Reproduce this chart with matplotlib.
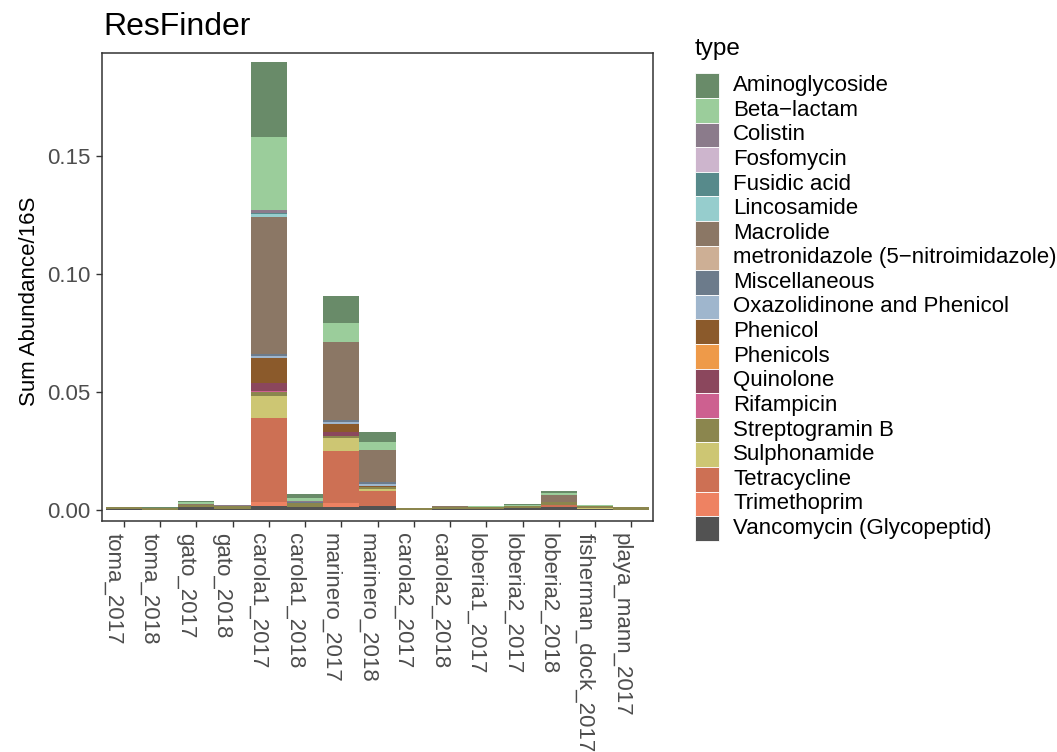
import matplotlib
matplotlib.use("Agg")
import matplotlib.pyplot as plt
from matplotlib.patches import Rectangle
from matplotlib.transforms import ScaledTranslation
import numpy as np

plt.rcParams['font.family'] = ['Liberation Sans', 'DejaVu Sans']

# samples (x axis order)
samples = ["toma_2017", "toma_2018", "gato_2017", "gato_2018", "carola1_2017",
           "carola1_2018", "marinero_2017", "marinero_2018", "carola2_2017",
           "carola2_2018", "loberia1_2017", "loberia2_2017", "loberia2_2018",
           "fisherman_dock_2017", "playa_mann_2017"]

# abundance per resistance type, one value per sample
aminoglycoside = [0.0001, 0.0002, 0.0003, 0, 0.0319, 0.0014, 0.0114, 0.0042, 0.0001, 0, 0.0002, 0.0004, 0.0007, 0.0003, 0.0001]
beta_lactam    = [0, 0, 0.0008, 0, 0.0310, 0.0014, 0.0081, 0.0034, 0, 0, 0.0002, 0.0004, 0.0010, 0.0003, 0]
colistin       = [0, 0, 0, 0.0002, 0.0012, 0.0004, 0, 0, 0, 0, 0, 0, 0, 0, 0]
fosfomycin     = [0, 0, 0, 0, 0.0001, 0, 0, 0, 0, 0, 0, 0, 0, 0, 0]
fusidic_acid   = [0, 0, 0, 0, 0.0002, 0, 0, 0, 0, 0, 0, 0, 0, 0, 0]
lincosamide    = [0, 0, 0, 0, 0.0013, 0, 0, 0, 0, 0, 0, 0, 0, 0, 0]
macrolide      = [0, 0, 0.0005, 0, 0.0584, 0, 0.0329, 0.0136, 0, 0.0002, 0, 0.0004, 0.0028, 0, 0]
metronidazole  = [0, 0, 0, 0, 0.0001, 0, 0.0001, 0, 0, 0, 0, 0, 0, 0, 0]
miscellaneous  = [0, 0, 0, 0.0002, 0.0007, 0.0006, 0.0007, 0.0007, 0, 0, 0, 0, 0, 0, 0]
oxazolidinone  = [0, 0, 0, 0, 0.0010, 0, 0.0010, 0.0010, 0, 0, 0, 0, 0, 0, 0]
phenicol       = [0, 0, 0, 0, 0.0103, 0, 0.0034, 0.0002, 0, 0, 0, 0, 0, 0, 0]
phenicols      = [0, 0, 0, 0, 0, 0, 0.0001, 0, 0, 0, 0, 0, 0, 0, 0]
quinolone      = [0, 0, 0, 0, 0.0034, 0, 0.0017, 0, 0, 0, 0, 0, 0, 0, 0]
rifampicin     = [0, 0, 0, 0, 0.0007, 0, 0, 0, 0, 0, 0, 0, 0, 0, 0]
streptogramin  = [0.0009, 0.0008, 0.0008, 0.0010, 0.0014, 0.0015, 0.0008, 0.0008, 0.0006, 0.0007, 0.0009, 0.0008, 0.0014, 0.0007, 0.0009]
sulphonamide   = [0, 0, 0, 0, 0.0093, 0, 0.0054, 0.0012, 0, 0, 0, 0, 0, 0.0005, 0]
tetracycline   = [0, 0, 0, 0, 0.0360, 0, 0.0220, 0.0061, 0, 0.0002, 0, 0, 0.0008, 0, 0]
trimethoprim   = [0, 0, 0, 0, 0.0017, 0, 0.0017, 0.0003, 0, 0, 0, 0, 0, 0, 0]
vancomycin     = [0.0001, 0, 0.0011, 0.0004, 0.0013, 0.0011, 0.0011, 0.0013, 0, 0.0002, 0.0003, 0.0005, 0.0011, 0.0003, 0]

types = ["Aminoglycoside", "Beta\u2212lactam", "Colistin", "Fosfomycin", "Fusidic acid",
         "Lincosamide", "Macrolide", "metronidazole (5\u2212nitroimidazole)", "Miscellaneous",
         "Oxazolidinone and Phenicol", "Phenicol", "Phenicols", "Quinolone", "Rifampicin",
         "Streptogramin B", "Sulphonamide", "Tetracycline", "Trimethoprim",
         "Vancomycin (Glycopeptid)"]
series = [aminoglycoside, beta_lactam, colistin, fosfomycin, fusidic_acid, lincosamide,
          macrolide, metronidazole, miscellaneous, oxazolidinone, phenicol, phenicols,
          quinolone, rifampicin, streptogramin, sulphonamide, tetracycline, trimethoprim,
          vancomycin]
colors = ["#698B69", "#9BCD9B", "#8B7B8B", "#CDB5CD", "#578A8B", "#96CDCD", "#8B7765",
          "#CDAF95", "#6C7B8B", "#9FB6CD", "#8B5A2B", "#EE9A49", "#8B475D", "#CD6090",
          "#8B864E", "#CDC673", "#CD7054", "#EE8262", "#525252"]

W, H = 1057, 752
fig = plt.figure(figsize=(W / 100, H / 100), dpi=100)
ax = fig.add_axes([102 / W, 1 - 520.7 / H, 551 / W, (520.7 - 53.3) / H])

x = np.arange(len(samples))
bottom = np.zeros(len(samples))
# ggplot stacks the first level on top, so draw from the last type up
for vals, col in zip(series[::-1], colors[::-1]):
    vals = np.array(vals)
    ax.bar(x, vals, width=1.0, bottom=bottom, color=col, linewidth=0)
    bottom += vals

ax.set_xlim(-0.6, len(samples) - 0.4)
ax.set_ylim(-0.00475, 0.1936)
ax.set_yticks([0, 0.05, 0.10, 0.15])
ax.set_yticklabels(["0.00", "0.05", "0.10", "0.15"])
ax.set_xticks(x)
ax.set_xticklabels(samples, rotation=-90, ha="right", va="top")
shift = ScaledTranslation(-5 / 100, 0, fig.dpi_scale_trans)
for lab in ax.get_xticklabels():
    lab.set_transform(lab.get_transform() + shift)

ax.tick_params(axis="both", length=4, width=1.0, color="#333333",
               labelsize=16, labelcolor="#4D4D4D")
ax.tick_params(axis="x", pad=5)
ax.tick_params(axis="y", pad=4.5)
for s in ax.spines.values():
    s.set_color("#333333")
    s.set_linewidth(1.1)

ax.set_ylabel("Sum Abundance/16S", fontsize=16)
ax.yaxis.set_label_coords(-0.113, 0.47)

fig.text(103 / W, 1 - 35 / H, "ResFinder", fontsize=23, va="baseline", ha="left")

# legend
fig.text(695 / W, 1 - 49 / H, "type", fontsize=17.5, va="center", ha="left")
top0, pitch = 73.3, 24.6
for i, (name, col) in enumerate(zip(types, colors)):
    y0 = top0 + pitch * i
    fig.add_artist(Rectangle((695 / W, 1 - (y0 + pitch) / H), 24 / W, pitch / H,
                             transform=fig.transFigure, facecolor=col,
                             edgecolor="white", linewidth=0.6))
    fig.text(733 / W, 1 - (y0 + pitch / 2) / H, name, fontsize=16,
             va="center", ha="left")

fig.savefig("out.png", dpi=100)
